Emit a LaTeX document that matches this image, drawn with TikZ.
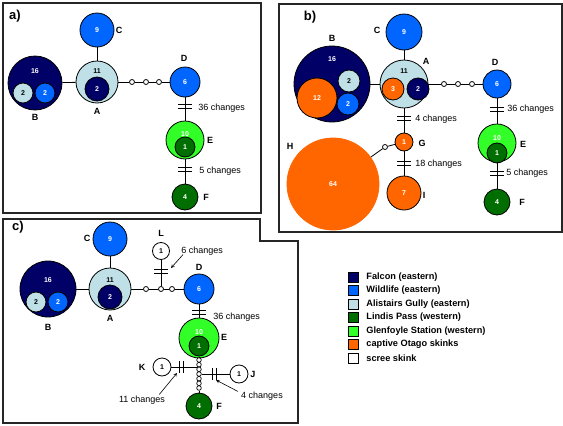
\documentclass[tikz,border=0pt]{standalone}
\usepackage{fontspec}
\setmainfont{Liberation Sans}
\definecolor{falcon}{RGB}{0,0,102}
\definecolor{wildlife}{RGB}{0,102,255}
\definecolor{gully}{RGB}{190,224,230}
\definecolor{lindis}{RGB}{0,110,0}
\definecolor{glen}{RGB}{51,255,40}
\definecolor{captive}{RGB}{255,102,0}

\begin{document}
\begin{tikzpicture}
  [x=1pt,y=-1pt,line width=0.8pt,
   hap/.style={circle,draw,inner sep=0pt,text=white,font=\bfseries\fontsize{7}{8}\selectfont},
   num/.style={inner sep=0pt,text=white,font=\bfseries\fontsize{7}{8}\selectfont},
   dot/.style={circle,draw,fill=white,inner sep=0pt,minimum size=5},
   sdot/.style={circle,draw,fill=white,inner sep=0pt,minimum size=4.6,line width=0.7pt},
   lab/.style={inner sep=0pt,font=\bfseries\fontsize{9}{10}\selectfont},
   chg/.style={inner sep=0pt,anchor=west,font=\fontsize{9}{10}\selectfont},
   panel/.style={draw=black!85,line width=1.5pt},
   key/.style={draw,inner sep=0pt,minimum size=10,line width=0.6pt},
   keytext/.style={inner sep=0pt,anchor=west,font=\bfseries\fontsize{9.2}{10}\selectfont}]
  \useasboundingbox (0,0) rectangle (563,426);

  % frames
  \draw[panel] (3,3) rectangle (261,213);
  \draw[panel] (279,4) rectangle (562,232);
  \draw[panel] (3,219) -- (260,219) -- (260,241) -- (298,241) -- (298,423) -- (3,423) -- cycle;
  \node[lab,font=\bfseries\fontsize{13}{14}\selectfont] (pa) at (15,16) {a)};
  \node[lab,font=\bfseries\fontsize{13}{14}\selectfont] (pb) at (310,17) {b)};
  \node[lab,font=\bfseries\fontsize{13}{14}\selectfont] (pc) at (18,227) {c)};

  % panel a
  \node[hap,fill=wildlife,minimum size=34] (aC) at (97,30) {9};
  \node[hap,fill=falcon,minimum size=54] (aB) at (35,83) {};
  \node[num] (aBn) at (35,71) {16};
  \node[hap,fill=gully,text=black,minimum size=20] (aB1) at (23,93) {2};
  \node[hap,fill=wildlife,minimum size=20] (aB2) at (45,93) {2};
  \node[hap,fill=gully,minimum size=42] (aA) at (97,82) {};
  \node[num,text=black] (aAn) at (97,71) {11};
  \node[hap,fill=falcon,minimum size=24] (aA1) at (97,89) {2};
  \node[dot] (a1) at (132,82) {};
  \node[dot] (a2) at (146,82) {};
  \node[dot] (a3) at (159,82) {};
  \node[hap,fill=wildlife,minimum size=30] (aD) at (185,82) {6};
  \node[hap,fill=glen,minimum size=38] (aE) at (185,140) {};
  \node[num] (aEn) at (185,134) {10};
  \node[hap,fill=lindis,minimum size=20] (aE1) at (185,147) {1};
  \node[hap,fill=lindis,minimum size=26] (aF) at (185,197) {4};
  \foreach \from/\to in {aB/aA,aA/aC,aA/a1,a1/a2,a2/a3,a3/aD,aD/aE,aE/aF}
    \draw (\from) -- (\to);
  \node[lab] (aCl) at (119,30) {C};
  \node[lab] (aBl) at (35,117) {B};
  \node[lab] (aAl) at (97,111) {A};
  \node[lab] (aDl) at (184,58) {D};
  \node[lab] (aEl) at (210,140) {E};
  \node[lab] (aFl) at (206,197) {F};
  \foreach \y in {104,108,167,171}
    \draw (178,\y) -- (192,\y);
  \node[chg] (ac1) at (198,108) {36 changes};
  \node[chg] (ac2) at (199,171) {5 changes};

  % panel b
  \node[hap,fill=wildlife,minimum size=36] (bC) at (404,32) {9};
  \node[hap,fill=falcon,minimum size=76] (bB) at (332,84) {};
  \node[num] (bBn) at (332,59) {16};
  \node[hap,fill=captive,minimum size=40] (bB1) at (317,98) {12};
  \node[hap,fill=gully,text=black,minimum size=22] (bB2) at (349,81) {2};
  \node[hap,fill=wildlife,minimum size=22] (bB3) at (348,104) {2};
  \node[hap,fill=gully,minimum size=48] (bA) at (404,84) {};
  \node[num,text=black] (bAn) at (404,71) {11};
  \node[hap,fill=captive,minimum size=22] (bA1) at (393,89) {3};
  \node[hap,fill=falcon,minimum size=22] (bA2) at (418,89) {2};
  \node[dot] (b1) at (444,84) {};
  \node[dot] (b2) at (458,84) {};
  \node[dot] (b3) at (472,84) {};
  \node[hap,fill=wildlife,minimum size=28] (bD) at (497,84) {6};
  \node[hap,fill=glen,minimum size=38] (bE) at (497,143) {};
  \node[num] (bEn) at (497,138) {10};
  \node[hap,fill=lindis,minimum size=20] (bE1) at (497,153) {1};
  \node[hap,fill=lindis,minimum size=26] (bF) at (497,202) {4};
  \node[hap,fill=captive,minimum size=18] (bG) at (404,142) {1};
  \node[hap,fill=captive,minimum size=34] (bI) at (404,193) {7};
  \node[hap,fill=captive,draw=captive,minimum size=92] (bH) at (333,184) {64};
  \node[dot] (bh) at (385,147) {};
  \foreach \from/\to in {bB/bA,bA/bC,bA/b1,b1/b2,b2/b3,b3/bD,bD/bE,bE/bF,bA/bG,bG/bI,bG/bh,bh/bH}
    \draw (\from) -- (\to);
  \node[lab] (bCl) at (377,30) {C};
  \node[lab] (bBl) at (332,38) {B};
  \node[lab] (bAl) at (426,61) {A};
  \node[lab] (bDl) at (495,62) {D};
  \node[lab] (bEl) at (523,144) {E};
  \node[lab] (bFl) at (522,202) {F};
  \node[lab] (bGl) at (422,143) {G};
  \node[lab] (bHl) at (290,146) {H};
  \node[lab] (bIl) at (424,195) {I};
  \foreach \y in {107,111,171,175}
    \draw (490,\y) -- (504,\y);
  \foreach \y in {116,120,161,165}
    \draw (397,\y) -- (411,\y);
  \node[chg] (bc1) at (507,109) {36 changes};
  \node[chg] (bc2) at (506,173) {5 changes};
  \node[chg] (bc3) at (415,119) {4 changes};
  \node[chg] (bc4) at (415,164) {18 changes};

  % panel c
  \node[hap,fill=wildlife,minimum size=34] (cC) at (110,239) {9};
  \node[hap,fill=falcon,minimum size=56] (cB) at (48,289) {};
  \node[num] (cBn) at (48,280) {16};
  \node[hap,fill=gully,text=black,minimum size=20] (cB1) at (36,302) {2};
  \node[hap,fill=wildlife,minimum size=20] (cB2) at (58,302) {2};
  \node[hap,fill=gully,minimum size=42] (cA) at (110,289) {};
  \node[num,text=black] (cAn) at (110,280) {11};
  \node[hap,fill=falcon,minimum size=24] (cA1) at (110,297) {2};
  \node[dot] (c1) at (146,289) {};
  \node[dot] (c2) at (161,289) {};
  \node[dot] (c3) at (172,289) {};
  \node[hap,fill=wildlife,minimum size=30] (cD) at (199,289) {6};
  \node[hap,fill=glen,minimum size=40] (cE) at (199,338) {};
  \node[num] (cEn) at (199,332) {10};
  \node[hap,fill=lindis,minimum size=20] (cE1) at (199,346) {1};
  \node[hap,fill=lindis,minimum size=26] (cF) at (199,406) {4};
  \node[hap,fill=white,text=black,minimum size=17] (cL) at (161,251) {1};
  \node[hap,fill=white,text=black,minimum size=18] (cK) at (162,367) {1};
  \node[hap,fill=white,text=black,minimum size=18] (cJ) at (239,374) {1};
  \foreach \y [count=\i] in {360,364.7,369.3,374,378.7,383.3,388}
    \node[sdot] (ch\i) at (199,\y) {};
  \coordinate (ck) at (196.7,367);
  \foreach \from/\to in {cB/cA,cA/cC,cA/c1,c1/c2,c2/c3,c3/cD,cD/cE,cL/c2,cE/ch1,ch7/cF,cK/ck,ch4/cJ}
    \draw (\from) -- (\to);
  \node[lab] (cCl) at (87,238) {C};
  \node[lab] (cBl) at (48,327) {B};
  \node[lab] (cAl) at (110,318) {A};
  \node[lab] (cLl) at (161,233) {L};
  \node[lab] (cDl) at (199,267) {D};
  \node[lab] (cEl) at (224,337) {E};
  \node[lab] (cFl) at (219,406) {F};
  \node[lab] (cKl) at (142,367) {K};
  \node[lab] (cJl) at (253,374) {J};
  \foreach \y in {269,273}
    \draw (154,\y) -- (168,\y);
  \foreach \y in {310,314}
    \draw (192,\y) -- (206,\y);
  \foreach \x in {179,183}
    \draw (\x,361) -- (\x,373);
  \foreach \x in {212,216}
    \draw (\x,368) -- (\x,380);
  \node[chg] (cc1) at (181,251) {6 changes};
  \node[chg] (cc2) at (213,317) {36 changes};
  \node[chg,anchor=center] (cc3) at (142,400) {11 changes};
  \node[chg,anchor=center] (cc4) at (262,396) {4 changes};
  \coordinate (cLt) at (171,268);
  \coordinate (cKt) at (177,373);
  \coordinate (cJt) at (216,380);
  \draw[-stealth,line width=0.6pt] ([shift={(2,-1)}]cc1.south west) -- (cLt);
  \draw[-stealth,line width=0.6pt] ([shift={(-6,-1)}]cc3.north east) -- (cKt);
  \draw[-stealth,line width=0.6pt] ([shift={(-3,0)}]cc4.north west) -- (cJt);

  % legend
  \foreach \c/\t [count=\i from 0] in {falcon/Falcon (eastern),wildlife/Wildlife (eastern),
      gully/Alistairs Gully (eastern),lindis/Lindis Pass (western),
      glen/Glenfoyle Station (western),captive/captive Otago skinks,white/scree skink}
  {
    \node[key,fill=\c] (k\i) at (353,{277+13.5*\i}) {};
    \node[keytext] (kt\i) at (366,{277+13.5*\i}) {\t};
  }
\end{tikzpicture}
\end{document}
